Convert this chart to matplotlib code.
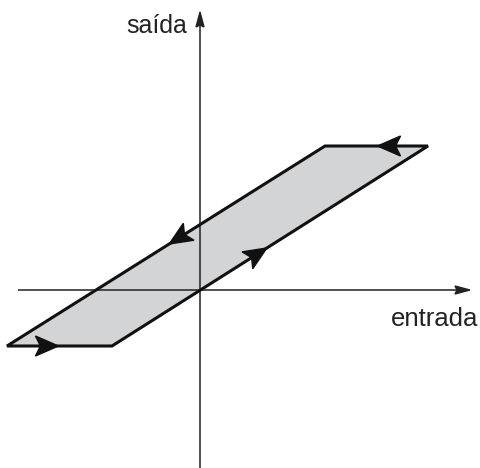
import matplotlib
matplotlib.use("Agg")
import matplotlib.pyplot as plt
from matplotlib.patches import Polygon
import numpy as np

# Hysteresis loop vertices (entrada, saída), traversed in arrow order
loop_x = [-193, -88, 228, 125]
loop_y = [-56, -56, 144, 144]
arrow_frac = [0.49, 0.49, 0.49, 0.49]
x_label = "entrada"
y_label = "saída"

plt.rcParams['font.family'] = ['Liberation Sans', 'DejaVu Sans']

fig = plt.figure(figsize=(4.8, 4.68), dpi=100)
ax = fig.add_axes([0, 0, 1, 1])
ax.set_xlim(-200, 280)
ax.set_ylim(-178, 290)
ax.axis('off')

# axes lines with arrows
axcol = '#222222'
ax.plot([-182, 262], [0, 0], color=axcol, lw=1.1, solid_capstyle='butt', zorder=3)
ax.plot([0, 0], [-178, 268], color=axcol, lw=1.1, solid_capstyle='butt', zorder=3)
ax.add_patch(Polygon([[270, 0], [255, 4], [257, 0], [255, -4]], closed=True,
                     color=axcol, zorder=4))
ax.add_patch(Polygon([[0, 278], [-4, 263], [0, 265], [4, 263]], closed=True,
                     color=axcol, zorder=4))

# loop fill and outline
pts = np.column_stack([loop_x, loop_y])
ax.add_patch(Polygon(pts, closed=True, facecolor='#d3d4d6', edgecolor='none', zorder=1))
ax.add_patch(Polygon(pts, closed=True, facecolor='none', edgecolor='#111111',
                     lw=2.2, joinstyle='miter', zorder=5))

# arrowheads
L, W, N = 23, 10, 5
n = len(loop_x)
for i in range(n):
    p0 = pts[i]
    p1 = pts[(i + 1) % n]
    d = p1 - p0
    u = d / np.hypot(*d)
    v = np.array([-u[1], u[0]])
    tip = p0 + arrow_frac[i] * d
    back = tip - L * u
    head = [tip, back + W * v, tip - (L - N) * u, back - W * v]
    ax.add_patch(Polygon(head, closed=True, color='#111111', zorder=6))

ax.text(-13, 257, y_label, fontsize=18, ha='right', va='baseline', color='#222222')
ax.text(191, -36, x_label, fontsize=18.5, ha='left', va='baseline', color='#222222')

fig.savefig("out.png", dpi=100)
